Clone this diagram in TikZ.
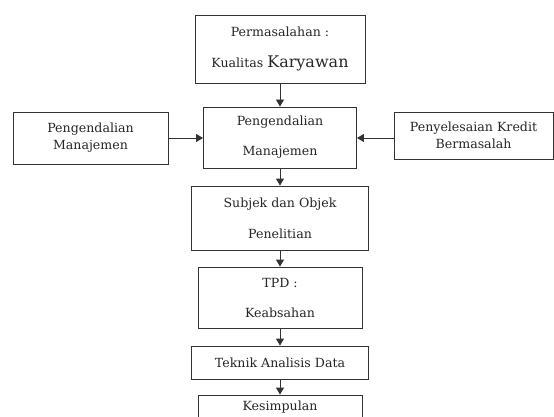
\documentclass[tikz,border=0pt]{standalone}
\usepackage{fontspec}
\setmainfont{DejaVu Serif}
\usetikzlibrary{arrows.meta}
\tikzset{
  box/.style={draw=black!80, line width=0.9pt, rectangle, inner sep=0pt, align=center,
    text=black!85, font=\fontsize{12.6}{17}\selectfont},
  arr/.style={draw=black!80, line width=0.9pt, -{Triangle[length=7pt,width=8pt]}}
}
\begin{document}
\begin{tikzpicture}[x=1pt,y=-1pt]
\useasboundingbox[fill=white] (0,0) rectangle (554,417);
\begin{scope}
\clip (0,0) rectangle (554,417);
\node[box, minimum width=170pt, minimum height=68pt] (top) at (280,49)
  {Permasalahan :\\[14pt] Kualitas {\fontsize{16}{20}\selectfont Karyawan}};
\node[box, minimum width=153pt, minimum height=61pt] (mgmt) at (280,137.5)
  {Pengendalian\\[13pt] Manajemen};
\node[box, minimum width=155pt, minimum height=52pt] (left) at (90.5,138)
  {Pengendalian\\ Manajemen};
\node[box, minimum width=159pt, minimum height=47pt] (right) at (473.5,135.5)
  {Penyelesaian Kredit\\ Bermasalah};
\node[box, minimum width=177pt, minimum height=64pt] (subjek) at (280,218)
  {Subjek dan Objek\\[14pt] Penelitian};
\node[box, minimum width=164pt, minimum height=61pt] (tpd) at (280,297.5)
  {TPD :\\[13pt] Keabsahan};
\node[box, minimum width=177pt, minimum height=33pt] (teknik) at (280,362.5)
  {Teknik Analisis Data};
\node[box, minimum width=164pt, minimum height=24pt] (kes) at (280,407)
  {Kesimpulan};
\draw[arr] (top.south) -- (mgmt.north);
\draw[arr] (mgmt.south) -- (subjek.north);
\draw[arr] (subjek.south) -- (tpd.north);
\draw[arr] (tpd.south) -- (teknik.north);
\draw[arr] (teknik.south) -- (kes.north);
\draw[arr] (left.east) -- (mgmt.west |- left.east);
\draw[arr] (right.west |- left.east) -- (mgmt.east |- left.east);
\end{scope}
\end{tikzpicture}
\end{document}
